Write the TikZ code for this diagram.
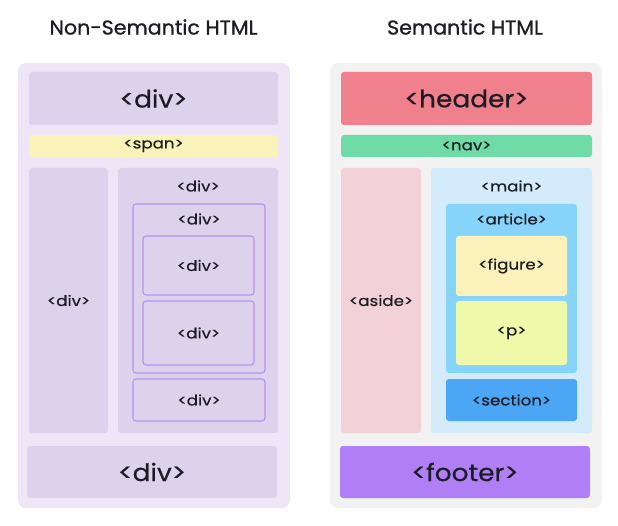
\documentclass[tikz,border=0pt]{standalone}
\usepackage{fontspec}
\setmainfont{Poppins}
\newfontfamily\smallfont{Poppins}[FakeStretch=1.15,FakeBold=0.5]
\newfontfamily\bigfont{Poppins}[FakeStretch=1.1,FakeBold=0.5]
\newfontfamily\titlefont{Poppins}[FakeStretch=1.03,FakeBold=0.9]
\definecolor{outerL}{HTML}{EEE6F7}
\definecolor{divc}{HTML}{DCD2EC}
\definecolor{spanc}{HTML}{FAF3B9}
\definecolor{outl}{HTML}{B892F0}
\definecolor{outerR}{HTML}{F2F2F2}
\definecolor{headc}{HTML}{EF808C}
\definecolor{navc}{HTML}{6FDBA7}
\definecolor{asidec}{HTML}{F3D1D9}
\definecolor{mainc}{HTML}{D4EBFB}
\definecolor{artc}{HTML}{87D4FA}
\definecolor{figc}{HTML}{FBF1BA}
\definecolor{pc}{HTML}{EEF9A9}
\definecolor{secc}{HTML}{4CA6F6}
\definecolor{footc}{HTML}{B07FF6}
\definecolor{txt}{HTML}{1C1C24}
\tikzset{
  box/.style={rectangle, rounded corners=3pt, inner sep=0pt, draw=none, text=txt, font=\smallfont\fontsize{14.5}{16}\selectfont},
  panel/.style={rectangle, rounded corners=8pt, inner sep=0pt, draw=none},
  big/.style={font=\bigfont\fontsize{24}{28}\selectfont},
  ttl/.style={text=txt, inner sep=0pt, font=\titlefont\fontsize{20}{24}\selectfont},
  lined/.style={draw=outl, line width=1.1pt},
  toplab/.style={text=txt, inner sep=0pt, font=\smallfont\fontsize{14.5}{16}\selectfont}
}
\begin{document}
\begin{tikzpicture}[x=1pt,y=1pt]
\useasboundingbox[fill=white] (0,0) rectangle (618,-526);
% titles
\node[ttl] (t1) at (153.5,-27) {Non-Semantic HTML};
\node[ttl] (t2) at (465,-27) {Semantic HTML};
% left panel
\node[panel, fill=outerL, minimum width=272pt, minimum height=445pt] (outerL) at (154,-285.5) {};
\node[box, big, fill=divc, minimum width=249pt, minimum height=53pt] (topdiv) at (153.5,-98.5) {<div>};
\node[box, fill=spanc, minimum width=249pt, minimum height=22pt] (span) at (153.5,-146) {<span>};
\node[box, fill=divc, minimum width=79pt, minimum height=265pt] (leftcol) at (68.5,-300.5) {<div>};
\node[box, fill=divc, minimum width=160pt, minimum height=265pt] (rightcol) at (198,-300.5) {};
\node[toplab] (rclab) at (198,-186) {<div>};
\node[box, lined, fill=divc, minimum width=132pt, minimum height=169pt] (inner) at (199,-288.5) {};
\node[toplab] (inlab) at (199,-219) {<div>};
\node[box, lined, fill=divc, minimum width=111pt, minimum height=59pt] (div1) at (198.5,-265.5) {<div>};
\node[box, lined, fill=divc, minimum width=111pt, minimum height=64pt] (div2) at (198.5,-333) {<div>};
\node[box, lined, fill=divc, minimum width=132pt, minimum height=42pt] (smalldiv) at (199,-400) {<div>};
\node[box, big, fill=divc, minimum width=250pt, minimum height=52pt] (footdiv) at (152,-472) {<div>};
% right panel
\node[panel, fill=outerR, minimum width=272pt, minimum height=445pt] (outerR) at (466,-285.5) {};
\node[box, big, fill=headc, minimum width=251pt, minimum height=53pt] (header) at (466.5,-98.5) {<header>};
\node[box, fill=navc, minimum width=251pt, minimum height=22pt] (nav) at (466.5,-146) {<nav>};
\node[box, fill=asidec, minimum width=80pt, minimum height=265pt] (aside) at (381,-300.5) {<aside>};
\node[box, fill=mainc, minimum width=161pt, minimum height=265pt] (main) at (511.5,-300.5) {};
\node[toplab] (mainlab) at (511.5,-186) {<main>};
\node[box, fill=artc, minimum width=131pt, minimum height=169pt] (article) at (511.5,-288.5) {};
\node[toplab] (artlab) at (511.5,-219) {<article>};
\node[box, fill=figc, minimum width=111pt, minimum height=60pt] (figure) at (511.5,-266) {<figure>};
\node[box, fill=pc, minimum width=111pt, minimum height=64pt] (p) at (511.5,-333) {<p>};
\node[box, fill=secc, minimum width=131pt, minimum height=42pt] (section) at (511.5,-400) {<section>};
\node[box, big, fill=footc, minimum width=250pt, minimum height=52pt] (footer) at (465,-472) {<footer>};
\end{tikzpicture}
\end{document}
